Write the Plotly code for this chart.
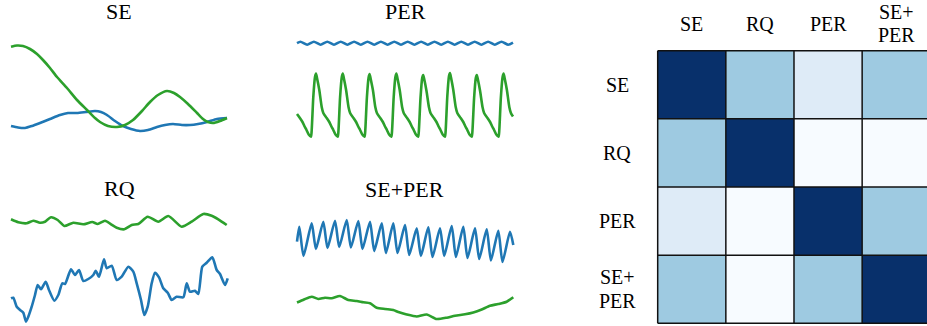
import plotly.graph_objects as go

# ---------------- data ----------------
panel_titles = ["SE", "PER", "RQ", "SE+PER"]

se_green_t = [0, 6, 12, 19, 26, 32, 39, 46, 56, 66, 76, 84, 89, 97, 106, 114, 122, 131, 139, 147,
              156, 163, 169, 177, 186, 192, 197, 202, 209, 216]
se_green = [88.3, 89.5, 89, 86, 81, 75, 67, 58, 47, 35, 25, 17, 13, 9, 8, 10, 15, 24, 33, 40,
            44, 42, 38, 31, 22, 16, 13, 12, 14, 17]
se_blue_t = [0, 7, 14, 21, 29, 39, 49, 57, 66, 75, 84, 90, 96, 104, 112, 120, 129, 137, 146, 154,
             162, 171, 179, 187, 196, 206, 216]
se_blue = [9, 7.5, 7, 9, 12, 16, 20, 22, 22, 23, 24, 23, 20, 14, 9, 6, 4, 5, 8, 10,
           11, 10, 10, 11, 13, 16, 17]

per_blue_t = [0, 3.5, 10.2, 16.9, 23.6, 30.3, 37.0, 43.7, 50.4, 57.1, 63.8, 70.5, 77.2, 83.9, 90.6,
              97.3, 104.0, 110.7, 117.4, 124.1, 130.8, 137.5, 144.2, 150.9, 157.6, 164.3, 171.0,
              177.7, 184.4, 191.1, 197.8, 204.5, 211.2, 216]
per_blue = [96.8, 98.3, 95.3, 98.3, 95.3, 98.3, 95.3, 98.3, 95.3, 98.3, 95.3, 98.3, 95.3, 98.3, 95.3,
            98.3, 95.3, 98.3, 95.3, 98.3, 95.3, 98.3, 95.3, 98.3, 95.3, 98.3, 95.3,
            98.3, 95.3, 98.3, 95.3, 98.3, 95.3, 97.4]

per_green_t = [0, 2.9, 5.5, 7.9, 9.5, 11.7,
               14, 14.7, 16.3, 18, 19, 20, 22.3, 24.7, 26.3, 29.7, 32.3, 34.7, 36.3, 38.5,
               40.8, 41.5, 43.1, 44.8, 45.8, 46.8, 49.1, 51.5, 53.1, 56.5, 59.1, 61.5, 63.1, 65.3,
               67.6, 68.3, 69.9, 71.6, 72.6, 73.6, 75.9, 78.3, 79.9, 83.3, 85.9, 88.3, 89.9, 92.1,
               94.4, 95.1, 96.7, 98.4, 99.4, 100.4, 102.7, 105.1, 106.7, 110.1, 112.7, 115.1, 116.7, 118.9,
               121.2, 121.9, 123.5, 125.2, 126.2, 127.2, 129.5, 131.9, 133.5, 136.9, 139.5, 141.9, 143.5, 145.7,
               148, 148.7, 150.3, 152, 153, 154, 156.3, 158.7, 160.3, 163.7, 166.3, 168.7, 170.3, 172.5,
               174.8, 175.5, 177.1, 178.8, 179.8, 180.8, 183.1, 185.5, 187.1, 190.5, 193.1, 195.5, 197.1, 199.3,
               201.6, 202.3, 203.9, 205.6, 206.6, 207.6, 209.9, 212.3, 213.9, 216]
per_green = [26, 22, 18, 13, 10, 5.5,
             3.3, 10, 43, 63, 66.5, 62, 50, 33, 27, 22, 18, 13, 10, 5.5,
             3.3, 10, 43, 63, 66.5, 62, 50, 33, 27, 22, 18, 13, 10, 5.5,
             3.3, 10, 42.5, 62.5, 66, 61.5, 50, 33, 27, 22, 18, 13, 10, 5.5,
             3.3, 10, 43, 63, 66.5, 62, 50, 33, 27, 22, 18, 13, 10, 5.5,
             3.3, 10, 42, 62, 65, 61, 49, 33, 27, 22, 18, 13, 10, 5.5,
             3.3, 10, 43.5, 64, 67, 62.5, 50, 33, 27, 22, 18, 13, 10, 5.5,
             3.3, 10, 42, 62, 65, 61, 49, 33, 27, 22, 18, 13, 10, 5.5,
             3.3, 10, 43, 63, 66.5, 62, 50, 33, 27, 23.5]

rq_green_t = [0, 7.3, 15.7, 22.3, 29, 34, 40, 46.7, 53.3, 62.3, 72.3, 81.3, 86.7, 94, 100, 105.7,
              113.3, 120.7, 127.3, 136.7, 147.3, 157.3, 170.7, 180.7, 192.3, 200.7, 207.3, 215.7]
rq_green = [105.7, 102.7, 101.7, 104.3, 102.3, 103.3, 107.7, 105, 99, 102.3, 100.7, 103, 101, 104.3,
            100.7, 97.3, 95.7, 100, 101, 108.3, 103.3, 109, 98.3, 103.3, 111, 109.3, 105.7, 100]
rq_blue_t = [0, 2.3, 5.7, 9, 12.3, 15, 17.3, 20.7, 24, 26.7, 30, 34.7, 38, 43.3, 47.3, 51.3, 54, 60,
             64, 68, 72.3, 77.3, 82.3, 84.7, 88, 93, 95.7, 100.7, 105.7, 110.7, 117.3, 122.3, 125.7,
             130, 133.3, 136.7, 140.7, 144, 148, 152.3, 156.7, 160.7, 165.7, 172.3, 175.7, 179, 184,
             187.3, 191.3, 195.7, 201.3, 205.7, 209, 214, 216.7]
rq_blue = [26.7, 27.3, 18.3, 15, 12.3, 3.3, 8.3, 18.3, 30, 40, 35.7, 43.3, 35, 24.3, 30, 41.7, 41,
           55.7, 50, 55, 44, 46, 50, 54.3, 48.3, 65.7, 56.7, 59.3, 45, 48.3, 58.3, 53.3, 41.7, 25,
           10, 18.3, 41.7, 52.3, 47.7, 36.7, 32.3, 25, 28.3, 27.7, 41.7, 33.3, 34.3, 31, 58.3, 62.3,
           67.7, 55, 51, 40, 46.7]

seper_blue_t = [0, 2.3, 6.5, 14.7, 18.9, 26.3, 30.5, 38, 42.2, 49.7, 53.9, 61.3, 65.5, 73, 77.2,
                84.7, 88.9, 96.3, 100.5, 108, 112.2, 119.7, 123.9, 131.3, 135.5, 143, 147.2, 154.7,
                158.9, 166.3, 170.5, 178, 182.2, 189.7, 193.9, 201.3, 205.5, 213, 216.3]
seper_blue = [83.3, 98.3, 69, 101.7, 76, 103.3, 77, 104.3, 78, 105, 77.5, 104, 76, 103.3, 74,
              101.7, 72, 101.7, 72, 100, 70, 96.7, 69, 97.7, 68, 96.7, 69, 99,
              68, 98.3, 67, 96.7, 66, 95.7, 64.5, 94.3, 63, 93.3, 80]
seper_green_t = [0, 7, 14.7, 21.3, 28, 34.7, 43, 51.3, 59.7, 66.3, 73, 79.7, 88, 96.3, 101.3, 109.7,
                 119.7, 129.7, 139.7, 149.7, 158, 168, 176.3, 184.7, 193, 201.3, 209.7, 216.3]
seper_green = [22.5, 25.5, 28.3, 26, 27.2, 26.7, 29, 25, 24, 22.7, 21.7, 17.3, 16, 15, 13, 10.5,
               8.5, 10.5, 6, 7.3, 9.3, 10.7, 12.5, 15.5, 19.3, 21, 23.3, 27.7]

kernel_labels = ["SE", "RQ", "PER", "SE+\nPER"]
similarity = [
    [1.0, 0.375, 0.125, 0.375],
    [0.375, 1.0, 0.0, 0.0],
    [0.125, 0.0, 1.0, 0.375],
    [0.375, 0.0, 0.375, 1.0],
]

# ---------------- styling / layout ----------------
W, H = 927, 326
BLUE = "#1f77b4"
GREEN = "#2ca02c"
FONT = "Liberation Serif"
LW = 2.6
TITLE_SIZE = 22
LABEL_SIZE = 20
LINE_STEP = 23.5  # px between lines of a two-line label

def px_x(p):
    return p / W

def px_y(p):
    return 1 - p / H

blues = [[0.0, "#f7fbff"], [0.125, "#deebf7"], [0.25, "#c6dbef"], [0.375, "#9ecae1"],
         [0.5, "#6baed6"], [0.625, "#4292c6"], [0.75, "#2171b5"], [0.875, "#08519c"],
         [1.0, "#08306b"]]

fig = go.Figure()

# panel geometry: (left px, baseline px, top px, title center x px, title center y px)
panels = [
    (11, 135, 36, 119, 11),
    (297, 140, 30, 405, 11),
    (11, 325, 200, 119, 188),
    (297, 325, 210, 404.5, 189),
]
series = [
    [(se_blue_t, se_blue, BLUE), (se_green_t, se_green, GREEN)],
    [(per_blue_t, per_blue, BLUE), (per_green_t, per_green, GREEN)],
    [(rq_green_t, rq_green, GREEN), (rq_blue_t, rq_blue, BLUE)],
    [(seper_blue_t, seper_blue, BLUE), (seper_green_t, seper_green, GREEN)],
]

annotations = []
pad = 5
for i, ((left, base, top, tx, ty), sers) in enumerate(zip(panels, series)):
    idx = i + 1
    xa = "x" if idx == 1 else f"x{idx}"
    ya = "y" if idx == 1 else f"y{idx}"
    for t, v, c in sers:
        fig.add_trace(go.Scatter(x=t, y=v, mode="lines", xaxis=xa, yaxis=ya,
                                 line=dict(color=c, width=LW, shape="spline", smoothing=0.6),
                                 showlegend=False, hoverinfo="skip"))
    bottom_px = min(base + pad, H)
    ax_common = dict(showgrid=False, zeroline=False, showticklabels=False, showline=False,
                     ticks="", fixedrange=True)
    fig.update_layout(**{
        ("xaxis" if idx == 1 else f"xaxis{idx}"): dict(
            domain=[px_x(left - pad), px_x(left + 216 + pad)], range=[-pad, 216 + pad],
            anchor=ya, **ax_common),
        ("yaxis" if idx == 1 else f"yaxis{idx}"): dict(
            domain=[px_y(bottom_px), px_y(top)], range=[base - bottom_px, base - top],
            anchor=xa, **ax_common),
    })
    annotations.append(dict(text=panel_titles[i], x=px_x(tx), y=px_y(ty), xref="paper", yref="paper",
                            xanchor="center", yanchor="middle", showarrow=False,
                            font=dict(family=FONT, size=TITLE_SIZE, color="black")))

# heatmap
cell = 68.15
hm_left, hm_top = 657.7, 50.7
e = 0.03
fig.add_trace(go.Heatmap(z=similarity, x=[0, 1, 2, 3], y=[0, 1, 2, 3], colorscale=blues,
                         zmin=0, zmax=1, showscale=False, xaxis="x5", yaxis="y5", hoverinfo="skip"))
fig.update_layout(
    xaxis5=dict(domain=[px_x(hm_left - e * cell), 1], range=[-0.5 - e, -0.5 + (W - hm_left) / cell],
                anchor="y5", showgrid=False, zeroline=False, showticklabels=False, ticks="",
                fixedrange=True),
    yaxis5=dict(domain=[px_y(hm_top + 4 * cell + e * cell), px_y(hm_top - e * cell)],
                range=[3.5 + e, -0.5 - e], anchor="x5", showgrid=False, zeroline=False,
                showticklabels=False, ticks="", fixedrange=True),
)
shapes = []
n = len(kernel_labels)
for k in range(n + 1):
    b = k - 0.5
    shapes.append(dict(type="line", xref="x5", yref="y5", x0=b, x1=b, y0=-0.5, y1=n - 0.5,
                       line=dict(color="#111111", width=1.5)))
    shapes.append(dict(type="line", xref="x5", yref="y5", x0=-0.5, x1=n - 0.5, y0=b, y1=b,
                       line=dict(color="#111111", width=1.5)))

top_center_px = 23.5
row_label_x = 617.3
for k, lab in enumerate(kernel_labels):
    lines = lab.split("\n")
    m = len(lines)
    for j, line_txt in enumerate(lines):
        off = (j - (m - 1) / 2) * LINE_STEP
        # column label (top)
        annotations.append(dict(text=line_txt, x=k, xref="x5", y=px_y(top_center_px + off),
                                yref="paper", xanchor="center", yanchor="middle", showarrow=False,
                                font=dict(family=FONT, size=LABEL_SIZE, color="black")))
        # row label (left)
        row_center_px = hm_top + (k + 0.5) * cell
        annotations.append(dict(text=line_txt, x=px_x(row_label_x), xref="paper",
                                y=px_y(row_center_px + off), yref="paper",
                                xanchor="center", yanchor="middle", showarrow=False,
                                font=dict(family=FONT, size=LABEL_SIZE, color="black")))

fig.update_layout(width=W, height=H, autosize=False, margin=dict(l=0, r=0, t=0, b=0),
                  paper_bgcolor="white", plot_bgcolor="white", annotations=annotations,
                  shapes=shapes, showlegend=False)

fig.write_html("out.html", config={"displayModeBar": False},
               post_script="document.body.style.margin='0px';")
